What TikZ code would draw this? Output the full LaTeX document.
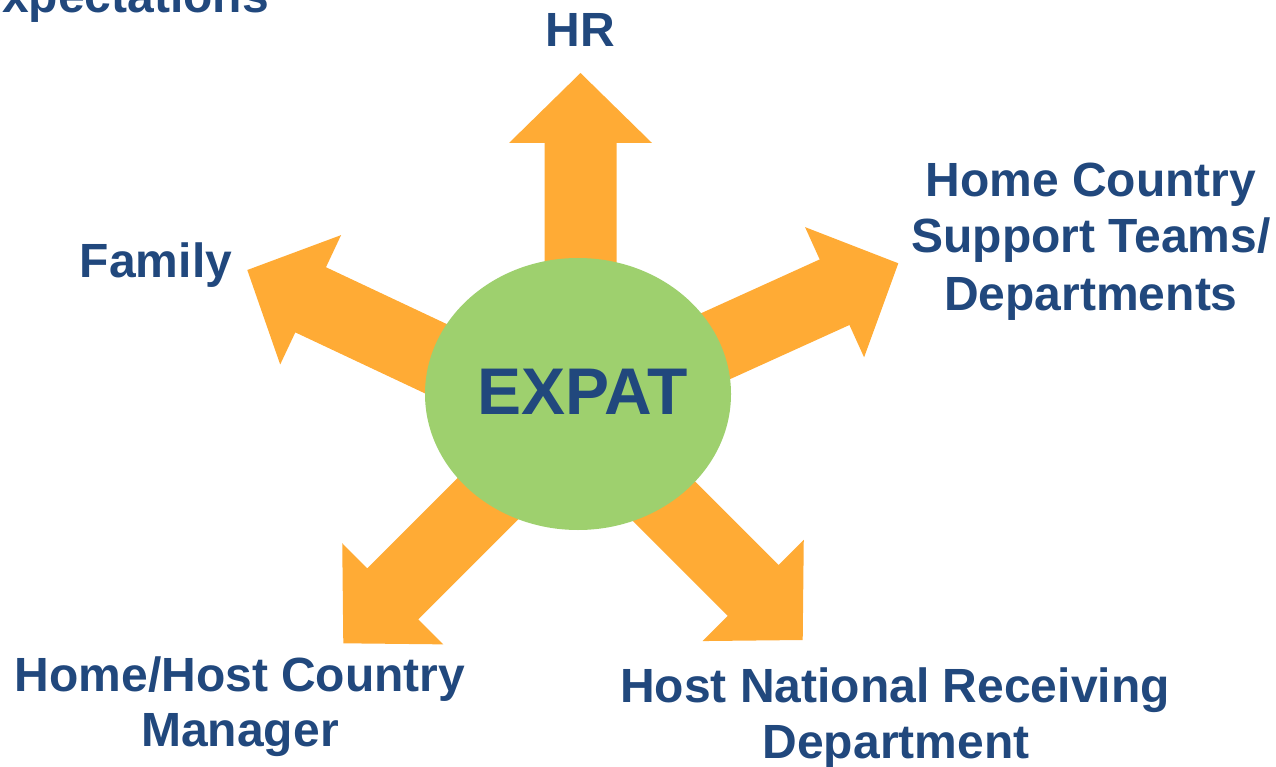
\documentclass[tikz,border=0pt]{standalone}
\usepackage{fontspec}
\usetikzlibrary{shapes.geometric}
\setmainfont{Liberation Sans}
\definecolor{arroworange}{RGB}{255,171,53}
\definecolor{expatgreen}{RGB}{158,208,110}
\definecolor{labelblue}{RGB}{33,72,125}
\tikzset{
  lbl/.style={text=labelblue, font=\fontsize{48}{56}\selectfont\bfseries, inner sep=0pt, anchor=base},
  biglbl/.style={text=labelblue, font=\fontsize{66}{72}\selectfont\bfseries, inner sep=0pt, anchor=base},
  blockarrow/.style={fill=arroworange, draw=none}
}
% #1 tip x, #2 tip y, #3 direction angle
\newcommand{\blockarr}[3]{%
  \begin{scope}[shift={(#1,#2)}, rotate=#3]
    \fill[blockarrow] (0,0) -- (-70,71.5) -- (-70,36) -- (-250,36) -- (-250,-36) -- (-70,-36) -- (-70,-71.5) -- cycle;
  \end{scope}}
\begin{document}
\begin{tikzpicture}[x=1pt,y=-1pt]
\useasboundingbox (0,0) rectangle (1276,767);
% arrows
\blockarr{580.5}{73}{90}
\blockarr{247.3}{270}{154.8}
\blockarr{898.3}{263.3}{24.4}
\blockarr{343.3}{643.3}{225}
\blockarr{802.7}{640}{315}
% centre
\node[ellipse, fill=expatgreen, minimum width=306pt, minimum height=272pt, inner sep=0pt] (expat) at (578,394) {};
\node[biglbl] (expattext) at (582.5,414) {EXPAT};
% labels
\node[lbl, anchor=base east] (expect) at (269,13) {expectations};
\node[lbl] (hr) at (580.5,47) {HR};
\node[lbl] (home1) at (1091,197) {Home Country};
\node[lbl] (home2) at (1091,253) {Support Teams/};
\node[lbl] (home3) at (1091,310) {Departments};
\node[lbl] (family) at (156,277) {Family};
\node[lbl] (mgr1) at (240,691) {Home/Host Country};
\node[lbl] (mgr2) at (240,746) {Manager};
\node[lbl] (host1) at (895,702) {Host National Receiving};
\node[lbl] (host2) at (896,758) {Department};
\end{tikzpicture}
\end{document}
